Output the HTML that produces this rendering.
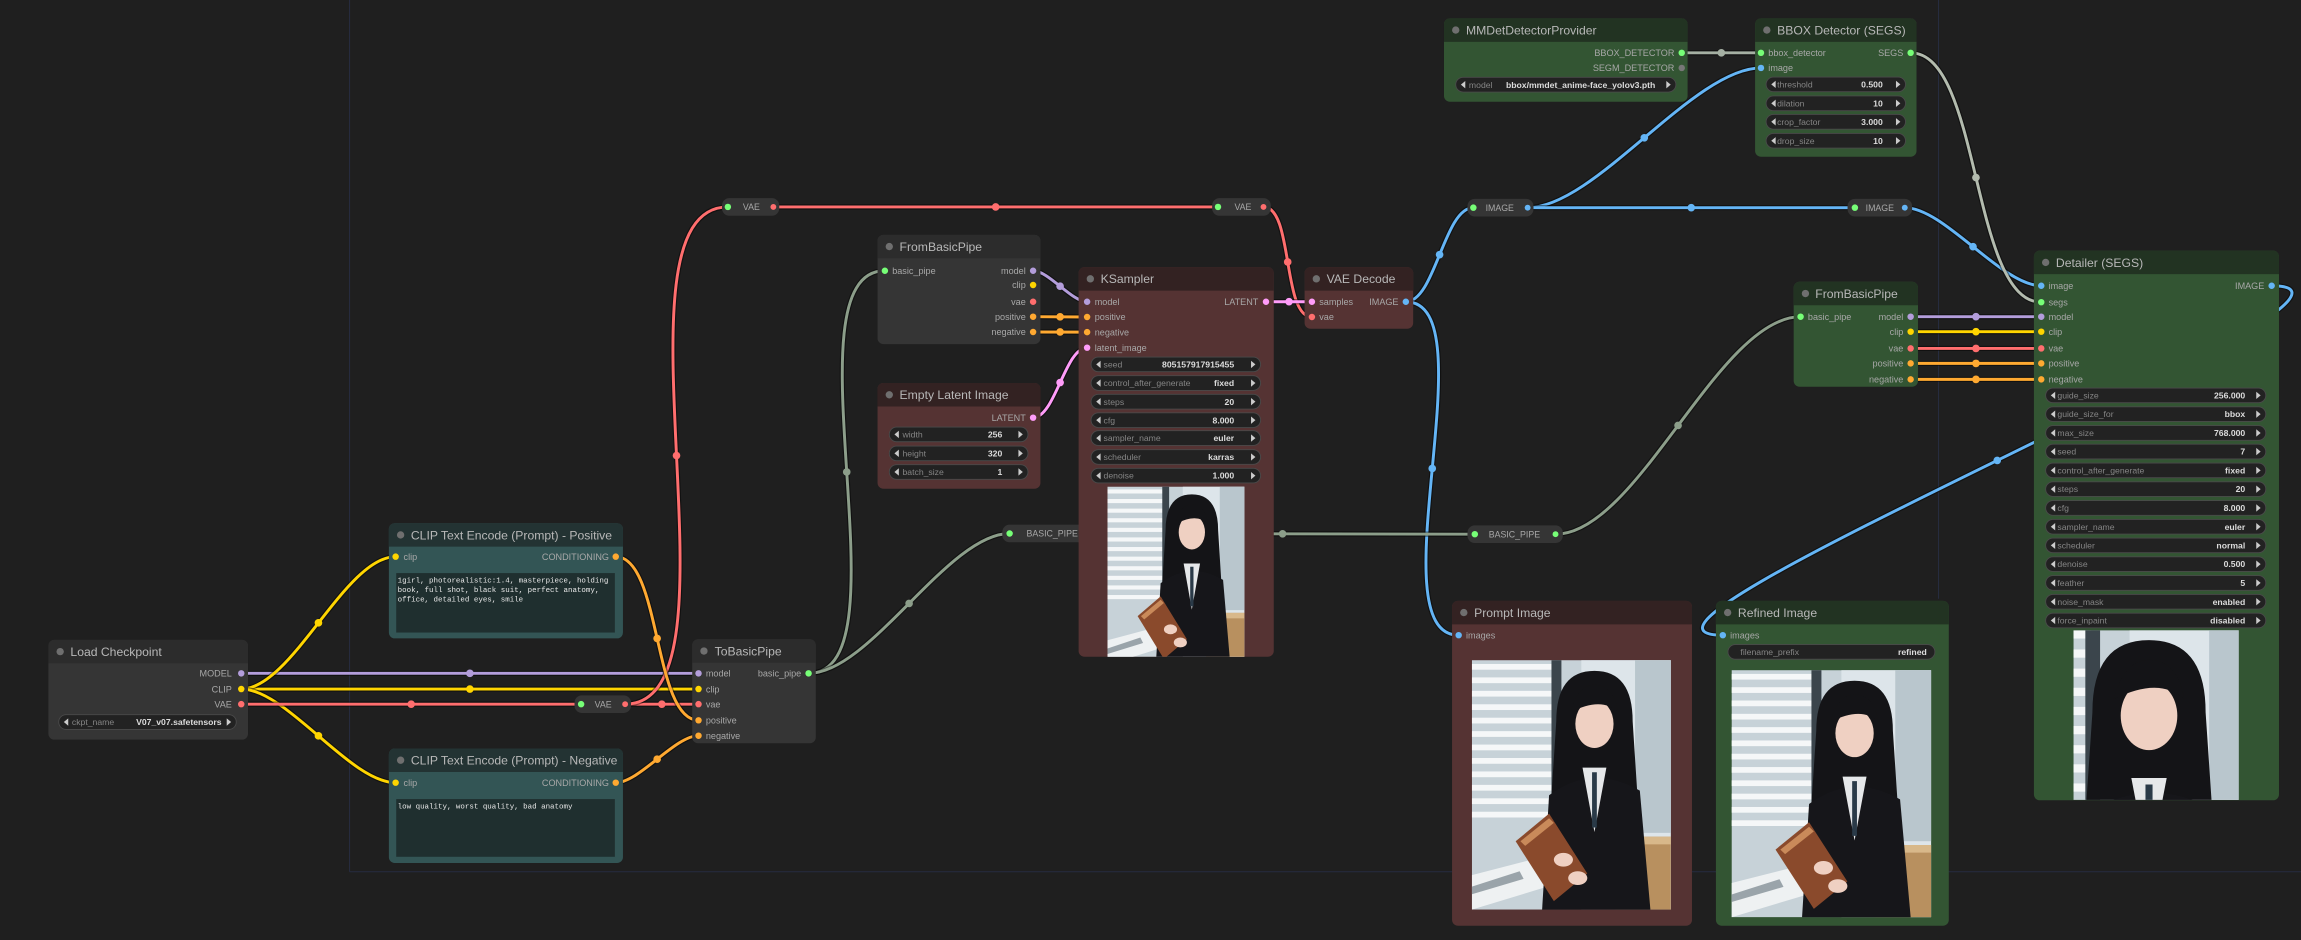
<!DOCTYPE html>
<html><head><meta charset="utf-8"><style>
html,body{margin:0;padding:0;background:#1e1e1e;overflow:hidden;width:2301px;height:940px;position:relative}
svg{display:block;overflow:hidden}
text{font-family:"Liberation Sans",sans-serif}
.tt{font-size:8.3px;fill:#b8b8b8}
.sl{font-size:6.2px;fill:#a8a8a8}
.so{font-size:6.2px;fill:#a8a8a8;text-anchor:end}
.wl{font-size:5.9px;fill:#858585}
.wv{font-size:5.9px;fill:#dcdcdc;text-anchor:end;font-weight:bold}
.rl{font-size:6px;fill:#a8a8a8;text-anchor:middle}
.ta{font-family:"Liberation Mono",monospace;font-size:5.1px;fill:#e8e8e8}
.lk{fill:none;stroke-width:2}
.lb{fill:none;stroke:#000;stroke-opacity:.45;stroke-width:3.6}
</style></head><body>
<svg width="2301" height="940" viewBox="0 0 1568 640.5" preserveAspectRatio="none" xmlns="http://www.w3.org/2000/svg" style="position:absolute;left:0;top:0">
<defs>
<g id="pic">
<rect x="0" y="0" width="100" height="130" fill="#c7d2d8"/>
<rect x="55" y="0" width="45" height="130" fill="#dde5ea"/>
<rect x="82" y="0" width="18" height="90" fill="#b9c6cd"/>
<g fill="#f5f7f8">
<rect x="0" y="2" width="42" height="3"/><rect x="0" y="9" width="42" height="3"/><rect x="0" y="16" width="42" height="3"/><rect x="0" y="23" width="42" height="3"/><rect x="0" y="30" width="42" height="3"/><rect x="0" y="37" width="42" height="3"/><rect x="0" y="44" width="42" height="3"/><rect x="0" y="51" width="42" height="3"/><rect x="0" y="58" width="42" height="3"/><rect x="0" y="65" width="42" height="3"/><rect x="0" y="72" width="42" height="3"/><rect x="0" y="79" width="42" height="3"/>
</g>
<rect x="40" y="0" width="5" height="95" fill="#3b454c"/>
<rect x="72" y="92" width="28" height="38" fill="#b8905f"/>
<rect x="72" y="92" width="28" height="4" fill="#d8b88a"/>
<polygon points="0,112 30,104 38,118 0,130" fill="#eef1f2"/>
<polygon points="0,118 24,110 26,114 0,122" fill="#9aa4aa"/>
<g transform="translate(-14,-4) scale(1.2)">
<path d="M47 30 Q47 8 63 8 Q79 8 79 30 L81 62 L45 62 Z" fill="#141417"/>
<ellipse cx="63" cy="31" rx="8" ry="10.5" fill="#efd0c2"/>
<path d="M53 26 Q56 14 63 14 Q71 14 73 26 Q66 19 53 26 Z" fill="#141417"/>
<path d="M40 130 L44 62 Q62 48 82 60 L88 130 Z" fill="#16161a"/>
<polygon points="58,50 68,50 63,78" fill="#e6e8ea"/>
<polygon points="62,52 64,52 64,76 62,76" fill="#2a3a48"/>
<polygon points="30,82 44,70 60,96 46,108" fill="#8a4a2c"/>
<polygon points="32,82 44,72 46,74 34,84" fill="#c98a5a"/>
<ellipse cx="50" cy="90" rx="4" ry="3" fill="#efd0c2"/>
<ellipse cx="56" cy="98" rx="4" ry="3" fill="#efd0c2"/>
</g>
</g>
</defs>
<rect width="1568" height="640.5" fill="#1f1f1f"/>
<g stroke="#262c40" stroke-width="0.7" fill="none">
<line x1="238.2" y1="0" x2="238.2" y2="594"/><line x1="238.2" y1="594" x2="1568" y2="594"/><line x1="1321" y1="0" x2="1321" y2="408"/>
</g>

<g>
<path class="lb" d="M164.4 458.8 L476 458.8"/><path class="lk" stroke="#b39ddb" d="M164.4 458.8 L476 458.8"/>
<path class="lb" d="M164.4 469.5 L476 469.5"/><path class="lk" stroke="#ffd500" d="M164.4 469.5 L476 469.5"/>
<path class="lb" d="M164.4 469.5 C199 469.5 235 379.3 269.6 379.3"/><path class="lk" stroke="#ffd500" d="M164.4 469.5 C199 469.5 235 379.3 269.6 379.3"/>
<path class="lb" d="M164.4 469.5 C195.4 469.5 238.6 533.3 269.6 533.3"/><path class="lk" stroke="#ffd500" d="M164.4 469.5 C195.4 469.5 238.6 533.3 269.6 533.3"/>
<path class="lb" d="M164.4 479.8 L396 479.8"/><path class="lk" stroke="#ff6e6e" d="M164.4 479.8 L396 479.8"/>
<path class="lb" d="M426 479.8 L476 479.8"/><path class="lk" stroke="#ff6e6e" d="M426 479.8 L476 479.8"/>
<path class="lb" d="M426 479.8 C512.5 479.8 409.5 141 496 141"/><path class="lk" stroke="#ff6e6e" d="M426 479.8 C512.5 479.8 409.5 141 496 141"/>
<path class="lb" d="M527 141 L830 141"/><path class="lk" stroke="#ff6e6e" d="M527 141 L830 141"/>
<path class="lb" d="M861 141 C881.5 141 873.5 216 894 216"/><path class="lk" stroke="#ff6e6e" d="M861 141 C881.5 141 873.5 216 894 216"/>
<path class="lb" d="M419.6 379.3 C450.6 379.3 445 490.8 476 490.8"/><path class="lk" stroke="#ffa931" d="M419.6 379.3 C450.6 379.3 445 490.8 476 490.8"/>
<path class="lb" d="M419.6 533.3 C435.6 533.3 460 501.3 476 501.3"/><path class="lk" stroke="#ffa931" d="M419.6 533.3 C435.6 533.3 460 501.3 476 501.3"/>
<path class="lb" d="M551 458.8 C621 458.8 533 184.5 603 184.5"/><path class="lk" stroke="#8c9e8a" d="M551 458.8 C621 458.8 533 184.5 603 184.5"/>
<path class="lb" d="M551 458.8 C593 458.8 646 363.5 688 363.5"/><path class="lk" stroke="#8c9e8a" d="M551 458.8 C593 458.8 646 363.5 688 363.5"/>
<path class="lb" d="M704 184.5 C714.6 184.5 730.2 205.6 740.8 205.6"/><path class="lk" stroke="#b39ddb" d="M704 184.5 C714.6 184.5 730.2 205.6 740.8 205.6"/>
<path class="lb" d="M704 215.8 L740.8 216"/><path class="lk" stroke="#ffa931" d="M704 215.8 L740.8 216"/>
<path class="lb" d="M704 226.2 L740.8 226.3"/><path class="lk" stroke="#ffa931" d="M704 226.2 L740.8 226.3"/>
<path class="lb" d="M704 284.6 C719 284.6 725.8 236.9 740.8 236.9"/><path class="lk" stroke="#ff9cf9" d="M704 284.6 C719 284.6 725.8 236.9 740.8 236.9"/>
<path class="lb" d="M862.7 205.6 L894 205.6"/><path class="lk" stroke="#ff9cf9" d="M862.7 205.6 L894 205.6"/>
<path class="lb" d="M958 205.6 C978 205.6 984 141.5 1004 141.5"/><path class="lk" stroke="#64b5f6" d="M958 205.6 C978 205.6 984 141.5 1004 141.5"/>
<path class="lb" d="M958 205.6 C1015.6 205.6 936.4 432.8 994 432.8"/><path class="lk" stroke="#64b5f6" d="M958 205.6 C1015.6 205.6 936.4 432.8 994 432.8"/>
<path class="lb" d="M1041 141.5 C1087 141.5 1154 46.3 1200 46.3"/><path class="lk" stroke="#64b5f6" d="M1041 141.5 C1087 141.5 1154 46.3 1200 46.3"/>
<path class="lb" d="M1041 141.5 L1264 141.5"/><path class="lk" stroke="#64b5f6" d="M1041 141.5 L1264 141.5"/>
<path class="lb" d="M1298 141.5 C1325 141.5 1364 194.7 1391 194.7"/><path class="lk" stroke="#64b5f6" d="M1298 141.5 C1325 141.5 1364 194.7 1391 194.7"/>
<path class="lb" d="M1146 36 L1200 36"/><path class="lk" stroke="#a5b0a3" d="M1146 36 L1200 36"/>
<path class="lb" d="M1302 36 C1350 36 1343 205.9 1391 205.9"/><path class="lk" stroke="#b3bbae" d="M1302 36 C1350 36 1343 205.9 1391 205.9"/>
<path class="lb" d="M743 363.5 L1005 364"/><path class="lk" stroke="#8c9e8a" d="M743 363.5 L1005 364"/>
<path class="lb" d="M1060 364 C1116 364 1171 215.8 1227 215.8"/><path class="lk" stroke="#8c9e8a" d="M1060 364 C1116 364 1171 215.8 1227 215.8"/>
<path class="lb" d="M1302 215.8 L1391 215.8"/><path class="lk" stroke="#b39ddb" d="M1302 215.8 L1391 215.8"/>
<path class="lb" d="M1302 226 L1391 226"/><path class="lk" stroke="#ffd500" d="M1302 226 L1391 226"/>
<path class="lb" d="M1302 237.4 L1391 237.4"/><path class="lk" stroke="#ff6e6e" d="M1302 237.4 L1391 237.4"/>
<path class="lb" d="M1302 247.6 L1391 247.6"/><path class="lk" stroke="#ffa931" d="M1302 247.6 L1391 247.6"/>
<path class="lb" d="M1302 258.5 L1391 258.5"/><path class="lk" stroke="#ffa931" d="M1302 258.5 L1391 258.5"/>
<path class="lb" d="M1548 194.7 C1659 194.7 1063 432.8 1174 432.8"/><path class="lk" stroke="#64b5f6" d="M1548 194.7 C1659 194.7 1063 432.8 1174 432.8"/>
</g>
<g>
<circle cx="320.2" cy="458.8" r="2.6" fill="#b39ddb"/>
<circle cx="320.2" cy="469.5" r="2.6" fill="#ffd500"/>
<circle cx="217" cy="424.4" r="2.6" fill="#ffd500"/>
<circle cx="217" cy="501.4" r="2.6" fill="#ffd500"/>
<circle cx="280.2" cy="479.8" r="2.6" fill="#ff6e6e"/>
<circle cx="451" cy="479.8" r="2.6" fill="#ff6e6e"/>
<circle cx="461" cy="310.4" r="2.6" fill="#ff6e6e"/>
<circle cx="678.5" cy="141" r="2.6" fill="#ff6e6e"/>
<circle cx="877.5" cy="178.5" r="2.6" fill="#ff6e6e"/>
<circle cx="447.8" cy="435" r="2.6" fill="#ffa931"/>
<circle cx="447.8" cy="517.3" r="2.6" fill="#ffa931"/>
<circle cx="577" cy="321.6" r="2.6" fill="#8c9e8a"/>
<circle cx="619.5" cy="411.2" r="2.6" fill="#8c9e8a"/>
<circle cx="722.4" cy="195" r="2.6" fill="#b39ddb"/>
<circle cx="722.4" cy="215.9" r="2.6" fill="#ffa931"/>
<circle cx="722.4" cy="226.2" r="2.6" fill="#ffa931"/>
<circle cx="722.4" cy="260.7" r="2.6" fill="#ff9cf9"/>
<circle cx="878.4" cy="205.6" r="2.6" fill="#ff9cf9"/>
<circle cx="981" cy="173.5" r="2.6" fill="#64b5f6"/>
<circle cx="976" cy="319.2" r="2.6" fill="#64b5f6"/>
<circle cx="1120.5" cy="93.9" r="2.6" fill="#64b5f6"/>
<circle cx="1152.5" cy="141.5" r="2.6" fill="#64b5f6"/>
<circle cx="1344.5" cy="168.1" r="2.6" fill="#64b5f6"/>
<circle cx="1173" cy="36" r="2.6" fill="#a5b0a3"/>
<circle cx="1346.5" cy="121" r="2.6" fill="#b3bbae"/>
<circle cx="874" cy="363.7" r="2.6" fill="#8c9e8a"/>
<circle cx="1143.5" cy="289.9" r="2.6" fill="#8c9e8a"/>
<circle cx="1346.5" cy="215.8" r="2.6" fill="#b39ddb"/>
<circle cx="1346.5" cy="226" r="2.6" fill="#ffd500"/>
<circle cx="1346.5" cy="237.4" r="2.6" fill="#ff6e6e"/>
<circle cx="1346.5" cy="247.6" r="2.6" fill="#ffa931"/>
<circle cx="1346.5" cy="258.5" r="2.6" fill="#ffa931"/>
<circle cx="1361" cy="313.7" r="2.6" fill="#64b5f6"/>
</g>

<g>
<rect x="391.5" y="473.8" width="38.5" height="12" rx="5" fill="#353535"/>
<circle cx="396" cy="479.8" r="2.2" fill="#7f7"/><text class="rl" x="411" y="482">VAE</text><circle cx="426" cy="479.8" r="2" fill="#ff6e6e"/>
<rect x="492" y="135" width="39" height="12" rx="5" fill="#353535"/>
<circle cx="496" cy="141" r="2.2" fill="#7f7"/><text class="rl" x="512" y="143.2">VAE</text><circle cx="527" cy="141" r="2" fill="#ff6e6e"/>
<rect x="826" y="135" width="40" height="12" rx="5" fill="#353535"/>
<circle cx="830" cy="141" r="2.2" fill="#7f7"/><text class="rl" x="847" y="143.2">VAE</text><circle cx="861" cy="141" r="2" fill="#ff6e6e"/>
<rect x="1000" y="135.5" width="45" height="12" rx="5" fill="#353535"/>
<circle cx="1004" cy="141.5" r="2.2" fill="#7f7"/><text class="rl" x="1022" y="143.7">IMAGE</text><circle cx="1041" cy="141.5" r="2" fill="#64b5f6"/>
<rect x="1259" y="135.5" width="44" height="12" rx="5" fill="#353535"/>
<circle cx="1264" cy="141.5" r="2.2" fill="#7f7"/><text class="rl" x="1281" y="143.7">IMAGE</text><circle cx="1298" cy="141.5" r="2" fill="#64b5f6"/>
<rect x="683" y="357.5" width="65" height="12" rx="5" fill="#353535"/>
<circle cx="688" cy="363.5" r="2.2" fill="#7f7"/><text class="rl" x="717" y="365.7">BASIC_PIPE</text>
<rect x="1000" y="358" width="65" height="12" rx="5" fill="#353535"/>
<circle cx="1005" cy="364" r="2.2" fill="#7f7"/><text class="rl" x="1032" y="366.2">BASIC_PIPE</text><circle cx="1060" cy="364" r="2" fill="#7f7"/>
</g>

<g>
<rect x="33" y="436" width="136" height="68" rx="4" fill="#353535"/>
<path d="M33 440 a4 4 0 0 1 4 -4 h128 a4 4 0 0 1 4 4 v12 h-136 z" fill="#2c2c2c"/>
<circle cx="41" cy="444" r="2.5" fill="#6f6f6f"/><text class="tt" x="48" y="447">Load Checkpoint</text>
<text class="so" x="158" y="461">MODEL</text><circle cx="164.4" cy="458.8" r="2.2" fill="#b39ddb"/>
<text class="so" x="158" y="471.7">CLIP</text><circle cx="164.4" cy="469.5" r="2.2" fill="#ffd500"/>
<text class="so" x="158" y="482">VAE</text><circle cx="164.4" cy="479.8" r="2.2" fill="#ff6e6e"/>
<rect x="40" y="487" width="121" height="10" rx="5" fill="#222" stroke="#4a4a4a" stroke-width=".6"/>
<polygon points="43.5,492 46.5,489.5 46.5,494.5" fill="#ccc"/><polygon points="157.5,492 154.5,489.5 154.5,494.5" fill="#ccc"/>
<text class="wl" x="49" y="494">ckpt_name</text><text class="wv" x="151" y="494">V07_v07.safetensors</text>
</g>

<g>
<rect x="265" y="356.5" width="159.5" height="78.5" rx="4" fill="#335555"/>
<path d="M265 360.5 a4 4 0 0 1 4 -4 h151.5 a4 4 0 0 1 4 4 v12 h-159.5 z" fill="#233333"/>
<circle cx="273" cy="364.5" r="2.5" fill="#6f6f6f"/><text class="tt" x="280" y="367.5">CLIP Text Encode (Prompt) - Positive</text>
<circle cx="269.6" cy="379.3" r="2.2" fill="#ffd500"/><text class="sl" x="275" y="381.5">clip</text>
<text class="so" x="415" y="381.5">CONDITIONING</text><circle cx="419.6" cy="379.3" r="2.2" fill="#ffa931"/>
<rect x="270" y="390.5" width="149" height="40.5" fill="#1f2f2f"/>
<text class="ta" x="271" y="397">1girl, photorealistic:1.4, masterpiece, holding</text>
<text class="ta" x="271" y="403.5">book, full shot, black suit, perfect anatomy,</text>
<text class="ta" x="271" y="410">office, detailed eyes, smile</text>
</g>

<g>
<rect x="265" y="510" width="159.5" height="78" rx="4" fill="#335555"/>
<path d="M265 514 a4 4 0 0 1 4 -4 h151.5 a4 4 0 0 1 4 4 v12 h-159.5 z" fill="#233333"/>
<circle cx="273" cy="518" r="2.5" fill="#6f6f6f"/><text class="tt" x="280" y="521">CLIP Text Encode (Prompt) - Negative</text>
<circle cx="269.6" cy="533.3" r="2.2" fill="#ffd500"/><text class="sl" x="275" y="535.5">clip</text>
<text class="so" x="415" y="535.5">CONDITIONING</text><circle cx="419.6" cy="533.3" r="2.2" fill="#ffa931"/>
<rect x="270" y="544.5" width="149" height="39.3" fill="#1f2f2f"/>
<text class="ta" x="271" y="551">low quality, worst quality, bad anatomy</text>
</g>

<g>
<rect x="471.7" y="435.6" width="84.2" height="70.8" rx="4" fill="#353535"/>
<path d="M471.7 439.6 a4 4 0 0 1 4 -4 h76.2 a4 4 0 0 1 4 4 v12 h-84.2 z" fill="#2c2c2c"/>
<circle cx="479.7" cy="443.6" r="2.5" fill="#6f6f6f"/><text class="tt" x="487" y="446.6">ToBasicPipe</text>
<circle cx="476" cy="458.8" r="2.2" fill="#b39ddb"/><text class="sl" x="481" y="461">model</text>
<circle cx="476" cy="469.5" r="2.2" fill="#ffd500"/><text class="sl" x="481" y="471.7">clip</text>
<circle cx="476" cy="479.8" r="2.2" fill="#ff6e6e"/><text class="sl" x="481" y="482">vae</text>
<circle cx="476" cy="490.8" r="2.2" fill="#ffa931"/><text class="sl" x="481" y="493">positive</text>
<circle cx="476" cy="501.3" r="2.2" fill="#ffa931"/><text class="sl" x="481" y="503.5">negative</text>
<text class="so" x="546" y="461">basic_pipe</text><circle cx="551" cy="458.8" r="2.2" fill="#7f7"/>
</g>

<g>
<rect x="598" y="160" width="111" height="74.5" rx="4" fill="#353535"/>
<path d="M598 164 a4 4 0 0 1 4 -4 h103 a4 4 0 0 1 4 4 v12 h-111 z" fill="#2c2c2c"/>
<circle cx="606" cy="168" r="2.5" fill="#6f6f6f"/><text class="tt" x="613" y="171">FromBasicPipe</text>
<circle cx="603" cy="184.5" r="2.2" fill="#7f7"/><text class="sl" x="608" y="186.7">basic_pipe</text>
<text class="so" x="699" y="186.7">model</text><circle cx="704" cy="184.5" r="2.2" fill="#b39ddb"/>
<text class="so" x="699" y="196.4">clip</text><circle cx="704" cy="194.2" r="2.2" fill="#ffd500"/>
<text class="so" x="699" y="207.8">vae</text><circle cx="704" cy="205.6" r="2.2" fill="#ff6e6e"/>
<text class="so" x="699" y="218">positive</text><circle cx="704" cy="215.8" r="2.2" fill="#ffa931"/>
<text class="so" x="699" y="228.4">negative</text><circle cx="704" cy="226.2" r="2.2" fill="#ffa931"/>
</g>

<g>
<rect x="598" y="261" width="111" height="72" rx="4" fill="#553333"/>
<path d="M598 265 a4 4 0 0 1 4 -4 h103 a4 4 0 0 1 4 4 v12 h-111 z" fill="#332222"/>
<circle cx="606" cy="269" r="2.5" fill="#6f6f6f"/><text class="tt" x="613" y="272">Empty Latent Image</text>
<text class="so" x="699" y="286.8">LATENT</text><circle cx="704" cy="284.6" r="2.2" fill="#ff9cf9"/>
<rect x="606" y="291" width="94.5" height="10" rx="5" fill="#222" stroke="#4a4a4a" stroke-width=".6"/>
<polygon points="609.5,296 612.5,293.5 612.5,298.5" fill="#ccc"/><polygon points="697,296 694,293.5 694,298.5" fill="#ccc"/>
<text class="wl" x="615" y="298">width</text><text class="wv" x="683" y="298">256</text>
<rect x="606" y="303.9" width="94.5" height="10" rx="5" fill="#222" stroke="#4a4a4a" stroke-width=".6"/>
<polygon points="609.5,308.9 612.5,306.4 612.5,311.4" fill="#ccc"/><polygon points="697,308.9 694,306.4 694,311.4" fill="#ccc"/>
<text class="wl" x="615" y="311">height</text><text class="wv" x="683" y="311">320</text>
<rect x="606" y="316.6" width="94.5" height="10" rx="5" fill="#222" stroke="#4a4a4a" stroke-width=".6"/>
<polygon points="609.5,321.6 612.5,319.1 612.5,324.1" fill="#ccc"/><polygon points="697,321.6 694,319.1 694,324.1" fill="#ccc"/>
<text class="wl" x="615" y="323.7">batch_size</text><text class="wv" x="683" y="323.7">1</text>
</g>

<g>
<rect x="735" y="182" width="133" height="265.5" rx="4" fill="#553333"/>
<path d="M735 186 a4 4 0 0 1 4 -4 h125 a4 4 0 0 1 4 4 v12 h-133 z" fill="#332222"/>
<circle cx="743" cy="190" r="2.5" fill="#6f6f6f"/><text class="tt" x="750" y="193">KSampler</text>
<circle cx="740.8" cy="205.6" r="2.2" fill="#b39ddb"/><text class="sl" x="746" y="207.8">model</text>
<circle cx="740.8" cy="216" r="2.2" fill="#ffa931"/><text class="sl" x="746" y="218.2">positive</text>
<circle cx="740.8" cy="226.3" r="2.2" fill="#ffa931"/><text class="sl" x="746" y="228.5">negative</text>
<circle cx="740.8" cy="236.9" r="2.2" fill="#ff9cf9"/><text class="sl" x="746" y="239.1">latent_image</text>
<text class="so" x="857.5" y="207.8">LATENT</text><circle cx="862.7" cy="205.6" r="2.2" fill="#ff9cf9"/>
<rect x="743.5" y="243.3" width="115.5" height="10" rx="5" fill="#222" stroke="#4a4a4a" stroke-width=".6"/>
<polygon points="747,248.3 750,245.8 750,250.8" fill="#ccc"/><polygon points="855.5,248.3 852.5,245.8 852.5,250.8" fill="#ccc"/>
<text class="wl" x="752" y="250.4">seed</text><text class="wv" x="841" y="250.4">805157917915455</text>
<rect x="743.5" y="256" width="115.5" height="10" rx="5" fill="#222" stroke="#4a4a4a" stroke-width=".6"/>
<polygon points="747,261 750,258.5 750,263.5" fill="#ccc"/><polygon points="855.5,261 852.5,258.5 852.5,263.5" fill="#ccc"/>
<text class="wl" x="752" y="263.1">control_after_generate</text><text class="wv" x="841" y="263.1">fixed</text>
<rect x="743.5" y="268.7" width="115.5" height="10" rx="5" fill="#222" stroke="#4a4a4a" stroke-width=".6"/>
<polygon points="747,273.7 750,271.2 750,276.2" fill="#ccc"/><polygon points="855.5,273.7 852.5,271.2 852.5,276.2" fill="#ccc"/>
<text class="wl" x="752" y="275.8">steps</text><text class="wv" x="841" y="275.8">20</text>
<rect x="743.5" y="281.3" width="115.5" height="10" rx="5" fill="#222" stroke="#4a4a4a" stroke-width=".6"/>
<polygon points="747,286.3 750,283.8 750,288.8" fill="#ccc"/><polygon points="855.5,286.3 852.5,283.8 852.5,288.8" fill="#ccc"/>
<text class="wl" x="752" y="288.4">cfg</text><text class="wv" x="841" y="288.4">8.000</text>
<rect x="743.5" y="293.5" width="115.5" height="10" rx="5" fill="#222" stroke="#4a4a4a" stroke-width=".6"/>
<polygon points="747,298.5 750,296 750,301" fill="#ccc"/><polygon points="855.5,298.5 852.5,296 852.5,301" fill="#ccc"/>
<text class="wl" x="752" y="300.6">sampler_name</text><text class="wv" x="841" y="300.6">euler</text>
<rect x="743.5" y="306.4" width="115.5" height="10" rx="5" fill="#222" stroke="#4a4a4a" stroke-width=".6"/>
<polygon points="747,311.4 750,308.9 750,313.9" fill="#ccc"/><polygon points="855.5,311.4 852.5,308.9 852.5,313.9" fill="#ccc"/>
<text class="wl" x="752" y="313.5">scheduler</text><text class="wv" x="841" y="313.5">karras</text>
<rect x="743.5" y="319.1" width="115.5" height="10" rx="5" fill="#222" stroke="#4a4a4a" stroke-width=".6"/>
<polygon points="747,324.1 750,321.6 750,326.6" fill="#ccc"/><polygon points="855.5,324.1 852.5,321.6 852.5,326.6" fill="#ccc"/>
<text class="wl" x="752" y="326.2">denoise</text><text class="wv" x="841" y="326.2">1.000</text>
<svg x="754.7" y="331.6" width="93.3" height="115.9" viewBox="0 0 100 124" preserveAspectRatio="none"><use href="#pic"/></svg>
</g>

<g>
<rect x="889" y="182" width="74" height="42" rx="4" fill="#553333"/>
<path d="M889 186 a4 4 0 0 1 4 -4 h66 a4 4 0 0 1 4 4 v12 h-74 z" fill="#332222"/>
<circle cx="897" cy="190" r="2.5" fill="#6f6f6f"/><text class="tt" x="904" y="193">VAE Decode</text>
<circle cx="894" cy="205.6" r="2.2" fill="#ff9cf9"/><text class="sl" x="899" y="207.8">samples</text>
<circle cx="894" cy="216" r="2.2" fill="#ff6e6e"/><text class="sl" x="899" y="218.2">vae</text>
<text class="so" x="953" y="207.8">IMAGE</text><circle cx="958" cy="205.6" r="2.2" fill="#64b5f6"/>
</g>

<g>
<rect x="984" y="12.5" width="166" height="56.8" rx="4" fill="#335533"/>
<path d="M984 16.5 a4 4 0 0 1 4 -4 h158 a4 4 0 0 1 4 4 v12 h-166 z" fill="#223322"/>
<circle cx="992" cy="20.5" r="2.5" fill="#6f6f6f"/><text class="tt" x="999" y="23.5">MMDetDetectorProvider</text>
<text class="so" x="1141" y="38.2">BBOX_DETECTOR</text><circle cx="1146" cy="36" r="2.2" fill="#7f7"/>
<text class="so" x="1141" y="48.5">SEGM_DETECTOR</text><circle cx="1146" cy="46.3" r="2.2" fill="#777"/>
<rect x="992" y="52.7" width="150" height="10" rx="5" fill="#222" stroke="#4a4a4a" stroke-width=".6"/>
<polygon points="995.5,57.7 998.5,55.2 998.5,60.2" fill="#ccc"/><polygon points="1138.5,57.7 1135.5,55.2 1135.5,60.2" fill="#ccc"/>
<text class="wl" x="1001" y="59.8">model</text><text class="wv" x="1128" y="59.8">bbox/mmdet_anime-face_yolov3.pth</text>
</g>

<g>
<rect x="1196" y="12.5" width="110" height="94.3" rx="4" fill="#335533"/>
<path d="M1196 16.5 a4 4 0 0 1 4 -4 h102 a4 4 0 0 1 4 4 v12 h-110 z" fill="#223322"/>
<circle cx="1204" cy="20.5" r="2.5" fill="#6f6f6f"/><text class="tt" x="1211" y="23.5">BBOX Detector (SEGS)</text>
<circle cx="1200" cy="36" r="2.2" fill="#7f7"/><text class="sl" x="1205" y="38.2">bbox_detector</text>
<circle cx="1200" cy="46.3" r="2.2" fill="#64b5f6"/><text class="sl" x="1205" y="48.5">image</text>
<text class="so" x="1297" y="38.2">SEGS</text><circle cx="1302" cy="36" r="2.2" fill="#7f7"/>
<rect x="1203.5" y="52.5" width="95" height="10" rx="5" fill="#222" stroke="#4a4a4a" stroke-width=".6"/>
<polygon points="1207,57.5 1210,55 1210,60" fill="#ccc"/><polygon points="1295,57.5 1292,55 1292,60" fill="#ccc"/>
<text class="wl" x="1211" y="59.6">threshold</text><text class="wv" x="1283" y="59.6">0.500</text>
<rect x="1203.5" y="65.4" width="95" height="10" rx="5" fill="#222" stroke="#4a4a4a" stroke-width=".6"/>
<polygon points="1207,70.4 1210,67.9 1210,72.9" fill="#ccc"/><polygon points="1295,70.4 1292,67.9 1292,72.9" fill="#ccc"/>
<text class="wl" x="1211" y="72.5">dilation</text><text class="wv" x="1283" y="72.5">10</text>
<rect x="1203.5" y="78" width="95" height="10" rx="5" fill="#222" stroke="#4a4a4a" stroke-width=".6"/>
<polygon points="1207,83 1210,80.5 1210,85.5" fill="#ccc"/><polygon points="1295,83 1292,80.5 1292,85.5" fill="#ccc"/>
<text class="wl" x="1211" y="85.1">crop_factor</text><text class="wv" x="1283" y="85.1">3.000</text>
<rect x="1203.5" y="90.9" width="95" height="10" rx="5" fill="#222" stroke="#4a4a4a" stroke-width=".6"/>
<polygon points="1207,95.9 1210,93.4 1210,98.4" fill="#ccc"/><polygon points="1295,95.9 1292,93.4 1292,98.4" fill="#ccc"/>
<text class="wl" x="1211" y="98">drop_size</text><text class="wv" x="1283" y="98">10</text>
</g>

<g>
<rect x="1222.3" y="192" width="84.7" height="71.5" rx="4" fill="#335533"/>
<path d="M1222.3 196 a4 4 0 0 1 4 -4 h76.7 a4 4 0 0 1 4 4 v12 h-84.7 z" fill="#223322"/>
<circle cx="1230.3" cy="200" r="2.5" fill="#6f6f6f"/><text class="tt" x="1237" y="203">FromBasicPipe</text>
<circle cx="1227" cy="215.8" r="2.2" fill="#7f7"/><text class="sl" x="1232" y="218">basic_pipe</text>
<text class="so" x="1297" y="218">model</text><circle cx="1302" cy="215.8" r="2.2" fill="#b39ddb"/>
<text class="so" x="1297" y="228.2">clip</text><circle cx="1302" cy="226" r="2.2" fill="#ffd500"/>
<text class="so" x="1297" y="239.6">vae</text><circle cx="1302" cy="237.4" r="2.2" fill="#ff6e6e"/>
<text class="so" x="1297" y="249.8">positive</text><circle cx="1302" cy="247.6" r="2.2" fill="#ffa931"/>
<text class="so" x="1297" y="260.7">negative</text><circle cx="1302" cy="258.5" r="2.2" fill="#ffa931"/>
</g>

<g>
<rect x="1386" y="170.8" width="167" height="374.5" rx="4" fill="#335533"/>
<path d="M1386 174.8 a4 4 0 0 1 4 -4 h159 a4 4 0 0 1 4 4 v12 h-167 z" fill="#223322"/>
<circle cx="1394" cy="178.8" r="2.5" fill="#6f6f6f"/><text class="tt" x="1401" y="181.8">Detailer (SEGS)</text>
<circle cx="1391" cy="194.7" r="2.2" fill="#64b5f6"/><text class="sl" x="1396" y="196.9">image</text>
<circle cx="1391" cy="205.9" r="2.2" fill="#7f7"/><text class="sl" x="1396" y="208.1">segs</text>
<circle cx="1391" cy="215.8" r="2.2" fill="#b39ddb"/><text class="sl" x="1396" y="218">model</text>
<circle cx="1391" cy="226" r="2.2" fill="#ffd500"/><text class="sl" x="1396" y="228.2">clip</text>
<circle cx="1391" cy="237.4" r="2.2" fill="#ff6e6e"/><text class="sl" x="1396" y="239.6">vae</text>
<circle cx="1391" cy="247.6" r="2.2" fill="#ffa931"/><text class="sl" x="1396" y="249.8">positive</text>
<circle cx="1391" cy="258.5" r="2.2" fill="#ffa931"/><text class="sl" x="1396" y="260.7">negative</text>
<text class="so" x="1543" y="196.9">IMAGE</text><circle cx="1548" cy="194.7" r="2.2" fill="#64b5f6"/>
<rect x="1394" y="264.4" width="150" height="10" rx="5" fill="#222" stroke="#4a4a4a" stroke-width=".6"/><polygon points="1397.5,269.4 1400.5,266.9 1400.5,271.9" fill="#ccc"/><polygon points="1540.5,269.4 1537.5,266.9 1537.5,271.9" fill="#ccc"/><text class="wl" x="1402" y="271.5">guide_size</text><text class="wv" x="1530" y="271.5">256.000</text>
<rect x="1394" y="277.2" width="150" height="10" rx="5" fill="#222" stroke="#4a4a4a" stroke-width=".6"/><polygon points="1397.5,282.2 1400.5,279.7 1400.5,284.7" fill="#ccc"/><polygon points="1540.5,282.2 1537.5,279.7 1537.5,284.7" fill="#ccc"/><text class="wl" x="1402" y="284.3">guide_size_for</text><text class="wv" x="1530" y="284.3">bbox</text>
<rect x="1394" y="290" width="150" height="10" rx="5" fill="#222" stroke="#4a4a4a" stroke-width=".6"/><polygon points="1397.5,295 1400.5,292.5 1400.5,297.5" fill="#ccc"/><polygon points="1540.5,295 1537.5,292.5 1537.5,297.5" fill="#ccc"/><text class="wl" x="1402" y="297.1">max_size</text><text class="wv" x="1530" y="297.1">768.000</text>
<rect x="1394" y="302.7" width="150" height="10" rx="5" fill="#222" stroke="#4a4a4a" stroke-width=".6"/><polygon points="1397.5,307.7 1400.5,305.2 1400.5,310.2" fill="#ccc"/><polygon points="1540.5,307.7 1537.5,305.2 1537.5,310.2" fill="#ccc"/><text class="wl" x="1402" y="309.8">seed</text><text class="wv" x="1530" y="309.8">7</text>
<rect x="1394" y="315.5" width="150" height="10" rx="5" fill="#222" stroke="#4a4a4a" stroke-width=".6"/><polygon points="1397.5,320.5 1400.5,318 1400.5,323" fill="#ccc"/><polygon points="1540.5,320.5 1537.5,318 1537.5,323" fill="#ccc"/><text class="wl" x="1402" y="322.6">control_after_generate</text><text class="wv" x="1530" y="322.6">fixed</text>
<rect x="1394" y="328.3" width="150" height="10" rx="5" fill="#222" stroke="#4a4a4a" stroke-width=".6"/><polygon points="1397.5,333.3 1400.5,330.8 1400.5,335.8" fill="#ccc"/><polygon points="1540.5,333.3 1537.5,330.8 1537.5,335.8" fill="#ccc"/><text class="wl" x="1402" y="335.4">steps</text><text class="wv" x="1530" y="335.4">20</text>
<rect x="1394" y="341.1" width="150" height="10" rx="5" fill="#222" stroke="#4a4a4a" stroke-width=".6"/><polygon points="1397.5,346.1 1400.5,343.6 1400.5,348.6" fill="#ccc"/><polygon points="1540.5,346.1 1537.5,343.6 1537.5,348.6" fill="#ccc"/><text class="wl" x="1402" y="348.2">cfg</text><text class="wv" x="1530" y="348.2">8.000</text>
<rect x="1394" y="353.9" width="150" height="10" rx="5" fill="#222" stroke="#4a4a4a" stroke-width=".6"/><polygon points="1397.5,358.9 1400.5,356.4 1400.5,361.4" fill="#ccc"/><polygon points="1540.5,358.9 1537.5,356.4 1537.5,361.4" fill="#ccc"/><text class="wl" x="1402" y="361">sampler_name</text><text class="wv" x="1530" y="361">euler</text>
<rect x="1394" y="366.6" width="150" height="10" rx="5" fill="#222" stroke="#4a4a4a" stroke-width=".6"/><polygon points="1397.5,371.6 1400.5,369.1 1400.5,374.1" fill="#ccc"/><polygon points="1540.5,371.6 1537.5,369.1 1537.5,374.1" fill="#ccc"/><text class="wl" x="1402" y="373.7">scheduler</text><text class="wv" x="1530" y="373.7">normal</text>
<rect x="1394" y="379.4" width="150" height="10" rx="5" fill="#222" stroke="#4a4a4a" stroke-width=".6"/><polygon points="1397.5,384.4 1400.5,381.9 1400.5,386.9" fill="#ccc"/><polygon points="1540.5,384.4 1537.5,381.9 1537.5,386.9" fill="#ccc"/><text class="wl" x="1402" y="386.5">denoise</text><text class="wv" x="1530" y="386.5">0.500</text>
<rect x="1394" y="392.2" width="150" height="10" rx="5" fill="#222" stroke="#4a4a4a" stroke-width=".6"/><polygon points="1397.5,397.2 1400.5,394.7 1400.5,399.7" fill="#ccc"/><polygon points="1540.5,397.2 1537.5,394.7 1537.5,399.7" fill="#ccc"/><text class="wl" x="1402" y="399.3">feather</text><text class="wv" x="1530" y="399.3">5</text>
<rect x="1394" y="405" width="150" height="10" rx="5" fill="#222" stroke="#4a4a4a" stroke-width=".6"/><polygon points="1397.5,410 1400.5,407.5 1400.5,412.5" fill="#ccc"/><polygon points="1540.5,410 1537.5,407.5 1537.5,412.5" fill="#ccc"/><text class="wl" x="1402" y="412.1">noise_mask</text><text class="wv" x="1530" y="412.1">enabled</text>
<rect x="1394" y="417.8" width="150" height="10" rx="5" fill="#222" stroke="#4a4a4a" stroke-width=".6"/><polygon points="1397.5,422.8 1400.5,420.3 1400.5,425.3" fill="#ccc"/><polygon points="1540.5,422.8 1537.5,420.3 1537.5,425.3" fill="#ccc"/><text class="wl" x="1402" y="424.9">force_inpaint</text><text class="wv" x="1530" y="424.9">disabled</text>
<svg x="1413" y="429.5" width="112.5" height="115.5" viewBox="36 2 56 62" preserveAspectRatio="none"><use href="#pic"/></svg>
</g>

<g>
<rect x="989.5" y="409.4" width="163.5" height="221.4" rx="4" fill="#553333"/>
<path d="M989.5 413.4 a4 4 0 0 1 4 -4 h155.5 a4 4 0 0 1 4 4 v12 h-163.5 z" fill="#332222"/>
<circle cx="997.5" cy="417.4" r="2.5" fill="#6f6f6f"/><text class="tt" x="1004.5" y="420.4">Prompt Image</text>
<circle cx="994" cy="432.8" r="2.2" fill="#64b5f6"/><text class="sl" x="999" y="435">images</text>
<svg x="1003" y="449.8" width="135.6" height="170" viewBox="0 0 100 130" preserveAspectRatio="none"><use href="#pic"/></svg>
</g>

<g>
<rect x="1169.3" y="409.4" width="158.7" height="221.4" rx="4" fill="#335533"/>
<path d="M1169.3 413.4 a4 4 0 0 1 4 -4 h150.7 a4 4 0 0 1 4 4 v12 h-158.7 z" fill="#223322"/>
<circle cx="1177.3" cy="417.4" r="2.5" fill="#6f6f6f"/><text class="tt" x="1184.3" y="420.4">Refined Image</text>
<circle cx="1174" cy="432.8" r="2.2" fill="#64b5f6"/><text class="sl" x="1179" y="435">images</text>
<rect x="1177.5" y="439.2" width="141" height="10" rx="5" fill="#222" stroke="#4a4a4a" stroke-width=".6"/>
<text class="wl" x="1186" y="446.3">filename_prefix</text><text class="wv" x="1313" y="446.3">refined</text>
<svg x="1180" y="456.6" width="136" height="168.4" viewBox="0 0 100 130" preserveAspectRatio="none"><use href="#pic"/></svg>
</g>
</svg>
</body></html>
